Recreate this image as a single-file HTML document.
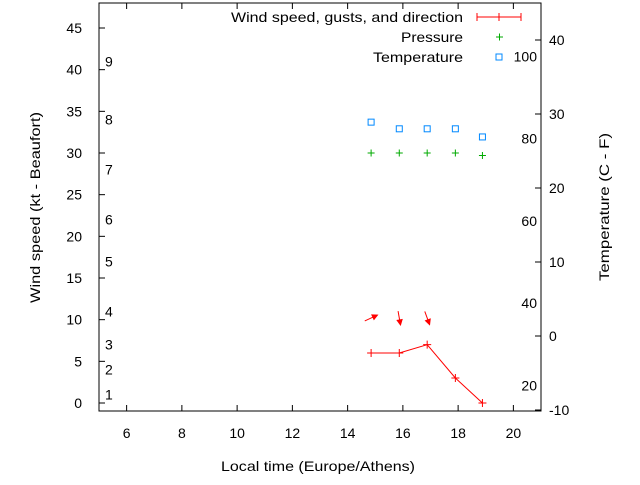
<!DOCTYPE html>
<html><head><meta charset="utf-8"><style>
body{margin:0;background:#fff;font-family:"Liberation Sans",sans-serif}
svg text{font-family:"Liberation Sans",sans-serif;font-size:14px;fill:#000}
</style></head><body>
<svg id="c" width="640" height="480" xmlns="http://www.w3.org/2000/svg"></svg>
<script>
const hours=[14.85,15.87,16.88,17.9,18.88];
const wind=[6,6,7,3,0];
const pressure=[30,30,30,30,29.7];
const tempC=[28.9,28,28,28,26.9];
const arrowHours=[14.85,15.87,16.88];
const arrowAngles=[-25,80,70];
const xTicks=[6,8,10,12,14,16,18,20];
const yTicks=[0,5,10,15,20,25,30,35,40,45];
const y2Ticks=[-10,0,10,20,30,40];
const fLabels=[20,40,60,80,100];
const beaufort=[[1,1],[2,4],[3,7],[4,11],[5,17],[6,22],[7,28],[8,34],[9,41]];
const L=99,R=541,T=3,B=411;
const X=v=>L+(v-5)/16*(R-L);
const Y=v=>B-(v+0.96)/48.96*(B-T);
const Y2=v=>40+(40-v)*7.4;
const s=document.getElementById('c');const NS='http://www.w3.org/2000/svg';
function el(t,a,txt){const e=document.createElementNS(NS,t);for(const k in a)e.setAttribute(k,a[k]);if(txt!=null)e.textContent=txt;s.appendChild(e);return e;}
let e;
e=el('rect',{x:L,y:T,width:R-L,height:B-T,fill:'none',stroke:'#000'});


xTicks.forEach(v=>{const x=X(v);
e=el('path',{d:`M${x} ${B}v-6M${x} ${T}v6`,stroke:'#000'});


e=el('text',{x:x,y:B+27,'text-anchor':'middle'},v);

});
yTicks.forEach(v=>{const y=Y(v);
e=el('path',{d:`M${L} ${y}h6`,stroke:'#000'});


e=el('text',{x:L-17,y:y+5,'text-anchor':'end'},v);

});
y2Ticks.forEach(v=>{const y=Y2(v);
e=el('path',{d:`M${R} ${y}h-6`,stroke:'#000'});


e=el('text',{x:R+8,y:y+5},v);

});
fLabels.forEach(f=>{const c=(f-32)*5/9;
e=el('text',{x:537,y:Y2(c)+5,'text-anchor':'end'},f);

});
beaufort.forEach(([b,kt])=>{
e=el('text',{x:105,y:Y(kt)+5},b);

});
e=el('text',{x:221,y:471,textLength:194,lengthAdjust:'spacingAndGlyphs'},'Local time (Europe/Athens)');


e=el('text',{x:40,y:303,textLength:191,lengthAdjust:'spacingAndGlyphs',transform:'rotate(-90 40 303)'},'Wind speed (kt - Beaufort)');


e=el('text',{x:609,y:281,textLength:148,lengthAdjust:'spacingAndGlyphs',transform:'rotate(-90 609 281)'},'Temperature (C - F)');


e=el('polyline',{points:hours.map((h,i)=>X(h)+','+Y(wind[i])).join(' '),fill:'none',stroke:'#f00'});


hours.forEach((h,i)=>{const x=X(h),y=Y(wind[i]);
e=el('path',{d:`M${x-4} ${y}h8M${x} ${y-4}v8`,stroke:'#f00'});


e=el('path',{d:`M${x-3.5} ${Y(pressure[i])}h7M${x} ${Y(pressure[i])-3.5}v7`,stroke:'#0a0'});


e=el('rect',{x:x-3,y:Y2(tempC[i])-3,width:6,height:6,fill:'none',stroke:'#08f'});

});
arrowHours.forEach((h,i)=>{const cx=X(h),cy=318,a=arrowAngles[i]*Math.PI/180,len=14;
const x1=cx-Math.cos(a)*len/2,y1=cy-Math.sin(a)*len/2,x2=cx+Math.cos(a)*len/2,y2=cy+Math.sin(a)*len/2;
const hx=x2-Math.cos(a)*5,hy=y2-Math.sin(a)*5,px=-Math.sin(a)*2.5,py=Math.cos(a)*2.5;
e=el('path',{d:`M${x1} ${y1}L${x2} ${y2}M${x2} ${y2}L${hx+px} ${hy+py}L${hx-px} ${hy-py}Z`,stroke:'#f00',fill:'#f00'});

});
const lg=[['Wind speed, gusts, and direction',17,232],['Pressure',37,62],['Temperature',57,90]];
lg.forEach(([t,y,w])=>{e=el('text',{x:463-w,y:y+5,textLength:w,lengthAdjust:'spacingAndGlyphs'},t);

});
e=el('path',{d:'M477 17h44M477 13v8M521 13v8M499 13v8',stroke:'#f00'});


e=el('path',{d:'M496 37h7M499.5 33.5v7',stroke:'#0a0'});


e=el('rect',{x:496,y:54,width:6,height:6,fill:'none',stroke:'#08f'});


</script>
</body></html>
